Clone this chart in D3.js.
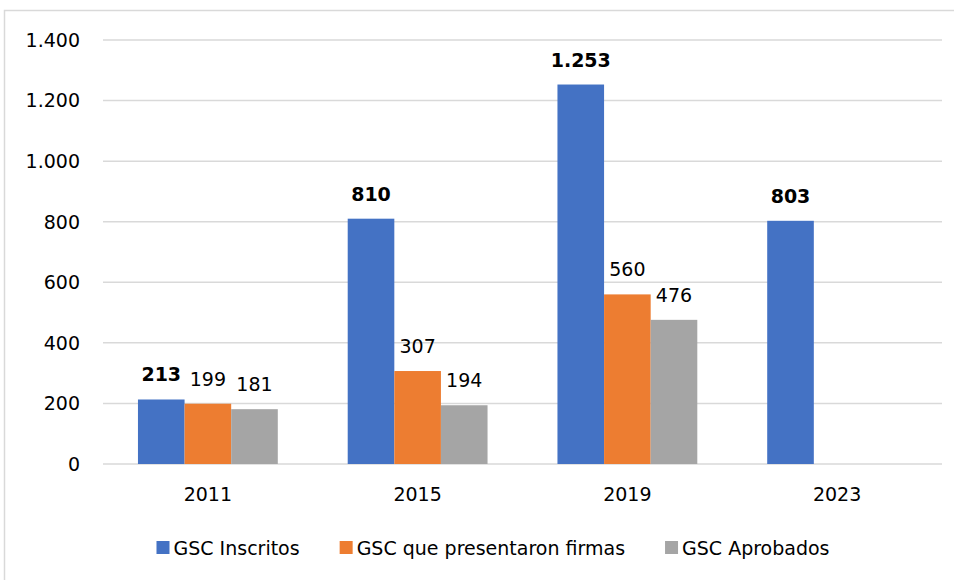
<!DOCTYPE html>
<html>
<head>
<meta charset="utf-8">
<script src="https://cdn.jsdelivr.net/npm/d3@7"></script>
<style>
  body { margin: 0; background: #fff; }
  text { font-family: "DejaVu Sans", sans-serif; fill: #000; }
</style>
</head>
<body>
<script>
var years = ["2011", "2015", "2019", "2023"];
var seriesNames = ["GSC Inscritos", "GSC que presentaron firmas", "GSC Aprobados"];
var inscritos = [213, 810, 1253, 803];
var firmas = [199, 307, 560, null];
var aprobados = [181, 194, 476, null];
var yTicks = [0, 200, 400, 600, 800, 1000, 1200, 1400];
var colors = ["#4472C4", "#ED7D31", "#A5A5A5"];

var allSeries = [inscritos, firmas, aprobados];
var fmt = function(v) { return d3.format(",")(v).replace(/,/g, "."); };

var svg = d3.select("body").append("svg")
  .attr("width", 954)
  .attr("height", 580);

// chart frame
svg.append("rect")
  .attr("x", 4.5).attr("y", 10.5)
  .attr("width", 1000).attr("height", 1000)
  .attr("fill", "none")
  .attr("stroke", "#D9D9D9")
  .attr("stroke-width", 1.5);

var x0 = d3.scaleBand().domain(years).range([103, 942]);
var x1 = d3.scaleBand().domain(d3.range(3)).range([0, x0.bandwidth()]).paddingOuter(0.75).paddingInner(0);
var y = d3.scaleLinear().domain([0, 1400]).range([464, 40]);

// gridlines
svg.append("g").selectAll("line")
  .data(yTicks)
  .enter().append("line")
  .attr("x1", 103).attr("x2", 942)
  .attr("y1", function(d) { return y(d); })
  .attr("y2", function(d) { return y(d); })
  .attr("stroke", "#D9D9D9")
  .attr("stroke-width", 1.5);

// y tick labels
svg.append("g").selectAll("text")
  .data(yTicks)
  .enter().append("text")
  .attr("x", 80)
  .attr("y", function(d) { return y(d); })
  .attr("dy", "0.36em")
  .attr("text-anchor", "end")
  .style("font-size", "19px")
  .text(fmt);

// x labels
svg.append("g").selectAll("text")
  .data(years)
  .enter().append("text")
  .attr("x", function(d) { return x0(d) + x0.bandwidth() / 2; })
  .attr("y", 494)
  .attr("dy", "0.36em")
  .attr("text-anchor", "middle")
  .style("font-size", "19px")
  .text(function(d) { return d; });

// bars and labels
var cells = [];
allSeries.forEach(function(vals, s) {
  vals.forEach(function(v, i) {
    if (v != null) cells.push({ s: s, year: years[i], v: v });
  });
});

svg.append("g").selectAll("rect")
  .data(cells)
  .enter().append("rect")
  .attr("x", function(d) { return x0(d.year) + x1(d.s); })
  .attr("width", x1.bandwidth())
  .attr("y", function(d) { return y(d.v); })
  .attr("height", function(d) { return y(0) - y(d.v); })
  .attr("fill", function(d) { return colors[d.s]; });

svg.append("g").selectAll("text")
  .data(cells)
  .enter().append("text")
  .attr("x", function(d) { return x0(d.year) + x1(d.s) + x1.bandwidth() / 2; })
  .attr("y", function(d) { return y(d.v) - 18; })
  .attr("text-anchor", "middle")
  .style("font-size", "19px")
  .style("font-weight", function(d) { return d.s === 0 ? "bold" : "normal"; })
  .text(function(d) { return fmt(d.v); });

// legend
var legend = svg.append("g");
var items = legend.selectAll("g")
  .data(seriesNames)
  .enter().append("g");
items.append("rect")
  .attr("width", 13).attr("height", 13)
  .attr("y", 541)
  .attr("fill", function(d, i) { return colors[i]; });
items.append("text")
  .attr("x", 17)
  .attr("y", 548)
  .attr("dy", "0.36em")
  .style("font-size", "19px")
  .text(function(d) { return d; });

var pos = 0;
var widths = [];
items.each(function() {
  var w = 17 + d3.select(this).select("text").node().getComputedTextLength();
  widths.push(w);
});
var total = d3.sum(widths) + 40 * (widths.length - 1);
pos = 493 - total / 2;
items.attr("transform", function(d, i) {
  var t = "translate(" + pos + ",0)";
  pos += widths[i] + 40;
  return t;
});
</script>
</body>
</html>
